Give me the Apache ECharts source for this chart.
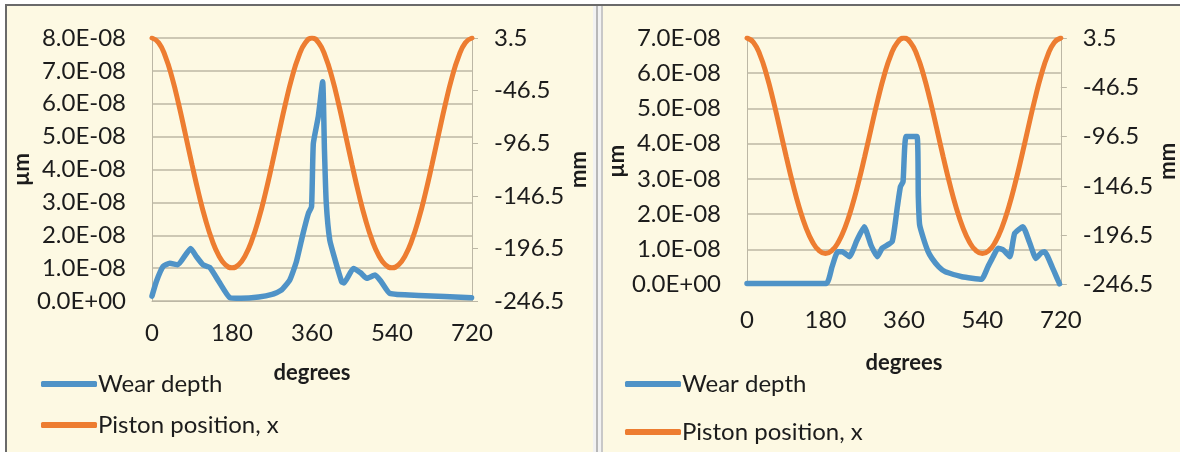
<!DOCTYPE html>
<html>
<head>
<meta charset="utf-8">
<script src="https://cdn.jsdelivr.net/npm/echarts@6/dist/echarts.min.js"></script>
<style>
  html, body { margin: 0; padding: 0; background: #fff; }
  #main { width: 1180px; height: 452px; }
</style>
</head>
<body>
<div id="main"></div>
<script>
// crank angle (degrees) for the piston curve, same in both panels
var pistonDeg = [0, 15, 30, 45, 60, 75, 90, 105, 120, 135, 150, 165, 180, 195, 210, 225, 240, 255, 270, 285, 300, 315, 330, 345,
  360, 375, 390, 405, 420, 435, 450, 465, 480, 495, 510, 525, 540, 555, 570, 585, 600, 615, 630, 645, 660, 675, 690, 705, 720];
// piston position x (mm)
var pistonPos = [3.5, -1, -13.9, -34, -59.4, -87.8, -116.8, -144.3, -168.6, -188.5, -203.1, -212, -215, -212, -203.1, -188.5, -168.6, -144.3, -116.8, -87.8, -59.4, -34, -13.9, -1,
  3.5, -1, -13.9, -34, -59.4, -87.8, -116.8, -144.3, -168.6, -188.5, -203.1, -212, -215, -212, -203.1, -188.5, -168.6, -144.3, -116.8, -87.8, -59.4, -34, -13.9, -1, 3.5];

// left panel wear depth (µm)
var wearDegL = [0, 10, 25, 40, 58, 87, 100, 115, 130, 150, 175, 200, 240, 270, 290, 310, 325, 340, 352, 359, 363, 374, 384, 388, 392, 400,
  412, 427, 432, 453, 470, 483, 502, 515, 535, 600, 719];
var wearValL = [0.15e-8, 0.6e-8, 1.05e-8, 1.15e-8, 1.1e-8, 1.6e-8, 1.35e-8, 1.1e-8, 1.02e-8, 0.6e-8, 0.1e-8, 0.08e-8, 0.12e-8, 0.2e-8, 0.32e-8,
  0.64e-8, 1.2e-8, 2.06e-8, 2.67e-8, 2.87e-8, 4.79e-8, 5.6e-8, 6.67e-8, 4.6e-8, 3.0e-8, 1.85e-8, 1.25e-8, 0.58e-8, 0.55e-8, 0.99e-8,
  0.85e-8, 0.69e-8, 0.79e-8, 0.6e-8, 0.23e-8, 0.17e-8, 0.1e-8];

// right panel wear depth (µm)
var wearDegR = [0, 182, 195, 208, 219, 235, 252, 269, 285, 299, 310, 333, 345, 352, 358, 365, 390, 393, 396, 405, 415, 424, 440, 455, 493,
  538, 553, 565, 576, 588, 603, 614, 633, 648, 663, 675, 683, 700, 717];
var wearValR = [0.03e-8, 0.03e-8, 0.5e-8, 0.93e-8, 0.93e-8, 0.79e-8, 1.25e-8, 1.64e-8, 1.1e-8, 0.79e-8, 1.03e-8, 1.22e-8, 2.21e-8, 2.78e-8,
  2.92e-8, 4.2e-8, 4.2e-8, 2.5e-8, 1.7e-8, 1.3e-8, 0.95e-8, 0.75e-8, 0.5e-8, 0.36e-8, 0.22e-8, 0.15e-8, 0.51e-8, 0.8e-8, 1.03e-8, 0.98e-8,
  0.79e-8, 1.45e-8, 1.64e-8, 1.2e-8, 0.74e-8, 0.9e-8, 0.93e-8, 0.5e-8, 0.02e-8];

var degTicks = [0, 180, 360, 540, 720];
var mmTicks = [-246.5, -196.5, -146.5, -96.5, -46.5, 3.5];

function pairs(xs, ys) {
  return xs.map(function (x, i) { return [x, ys[i]]; });
}
// 8.0E-08 style labels
function sci(v) {
  var s = v.toExponential(1).split('e');
  var e = parseInt(s[1], 10);
  return s[0] + 'E' + (e < 0 ? '-' : '+') + (Math.abs(e) < 10 ? '0' : '') + Math.abs(e);
}

var FONT = 'Lato';
var FS = 24;
var txt = '#1c1c1c';
var gridCol = '#bcb7a5';
var blue = '#4f93c7';
var orange = '#ed7d31';

function xAxisOf(g, gap) {
  return {
    type: 'value', gridIndex: g, min: degTicks[0], max: degTicks[degTicks.length - 1], interval: 180,
    name: 'degrees', nameLocation: 'middle', nameGap: gap,
    nameTextStyle: { fontFamily: FONT, fontSize: 22, fontWeight: 'bold', color: txt },
    axisLine: { show: true, lineStyle: { color: gridCol, width: 1 } },
    axisTick: { show: false },
    splitLine: { show: false },
    axisLabel: { fontFamily: FONT, fontSize: FS, color: txt, margin: g === 0 ? 20 : 24 }
  };
}
function leftAxisOf(g, max) {
  return {
    type: 'value', gridIndex: g, min: 0, max: max, interval: 1e-8,
    name: 'µm', nameLocation: 'middle', nameRotate: 90, nameGap: g === 0 ? 107 : 109,
    nameTextStyle: { fontFamily: FONT, fontSize: 22, fontWeight: 'bold', color: txt },
    axisLine: { show: true, lineStyle: { color: gridCol, width: 1 } },
    axisTick: { show: false },
    splitLine: { show: true, lineStyle: { color: gridCol, width: 1.5 } },
    axisLabel: { fontFamily: FONT, fontSize: FS, color: txt, margin: 26, formatter: sci }
  };
}
function rightAxisOf(g) {
  return {
    type: 'value', gridIndex: g, position: 'right', min: mmTicks[0], max: mmTicks[mmTicks.length - 1], interval: 50,
    name: 'mm', nameLocation: 'middle', nameRotate: 90, nameGap: 95,
    nameTextStyle: { fontFamily: FONT, fontSize: 22, fontWeight: 'bold', color: txt },
    axisLine: { show: true, lineStyle: { color: gridCol, width: 1 } },
    axisTick: { show: true, length: 6, lineStyle: { color: gridCol } },
    splitLine: { show: false },
    axisLabel: { fontFamily: FONT, fontSize: FS, color: txt, margin: 22, formatter: function (v) { return v.toFixed(1); } }
  };
}
function legendOf(left, top, gap) {
  return {
    orient: 'vertical', left: left, top: top, width: 300, height: 90, padding: 0,
    itemWidth: 56, itemHeight: 6, itemGap: gap,
    icon: 'roundRect',
    textStyle: { fontFamily: FONT, fontSize: FS, color: txt, padding: [0, 0, 0, -4] },
    data: ['Wear depth', 'Piston position, x']
  };
}
function wearSeries(g, xs, ys) {
  return {
    name: 'Wear depth', type: 'line', xAxisIndex: g, yAxisIndex: g * 2, data: pairs(xs, ys),
    showSymbol: false, smooth: 0.15, z: 3,
    lineStyle: { color: blue, width: 5.5, cap: 'round', join: 'round' }, itemStyle: { color: blue }
  };
}
function pistonSeries(g) {
  return {
    name: 'Piston position, x', type: 'line', xAxisIndex: g, yAxisIndex: g * 2 + 1, data: pairs(pistonDeg, pistonPos),
    showSymbol: false, smooth: true, z: 2,
    lineStyle: { color: orange, width: 5, cap: 'round' }, itemStyle: { color: orange }
  };
}

var chart = echarts.init(document.getElementById('main'));
var option = {
  backgroundColor: '#fdf9e3',
  animation: false,
  graphic: [
    { type: 'rect', shape: { x: 0, y: 0, width: 1180, height: 4 }, style: { fill: '#ffffff' } },
    { type: 'rect', shape: { x: 0, y: 4, width: 1180, height: 2 }, style: { fill: '#6a6a6a' } },
    { type: 'rect', shape: { x: 0, y: 0, width: 5, height: 452 }, style: { fill: '#ffffff' } },
    { type: 'rect', shape: { x: 5, y: 4, width: 2, height: 448 }, style: { fill: '#6a6a6a' } },
    { type: 'rect', shape: { x: 593, y: 6, width: 10, height: 446 }, style: { fill: '#f2f2f2' } },
    { type: 'rect', shape: { x: 596, y: 6, width: 2, height: 446 }, style: { fill: '#b8b8b8' } },
    { type: 'rect', shape: { x: 601, y: 6, width: 2, height: 446 }, style: { fill: '#c8c8c8' } }
  ],
  grid: [
    { left: 152, right: 708, top: 38, bottom: 151 },
    { left: 747, right: 117, top: 38, bottom: 167.5 }
  ],
  legend: [legendOf(41, 372, 17), legendOf(625, 372, 24)],
  xAxis: [xAxisOf(0, 61), xAxisOf(1, 67)],
  yAxis: [leftAxisOf(0, 8e-8), rightAxisOf(0), leftAxisOf(1, 7e-8), rightAxisOf(1)],
  series: [
    pistonSeries(0), wearSeries(0, wearDegL, wearValL),
    pistonSeries(1), wearSeries(1, wearDegR, wearValR)
  ]
};
chart.setOption(option);
</script>
</body>
</html>
